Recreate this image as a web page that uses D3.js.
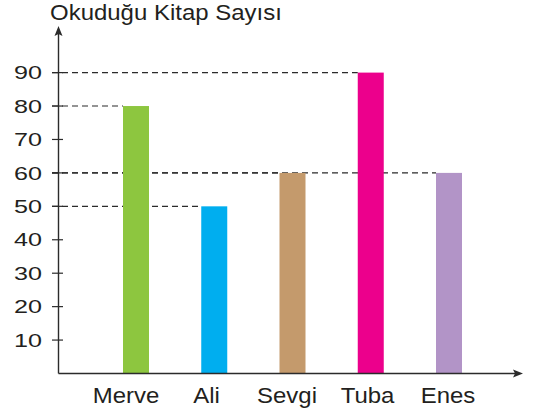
<!DOCTYPE html>
<html>
<head>
<meta charset="utf-8">
<script src="https://cdn.jsdelivr.net/npm/d3@7"></script>
<style>
  body { margin: 0; background: #fff; }
  text { font-family: "Liberation Sans", Arial, sans-serif; fill: #231f20; }
</style>
</head>
<body>
<div id="chart"></div>
<script>
// data
var names = ["Merve", "Ali", "Sevgi", "Tuba", "Enes"];
var books = [80, 50, 60, 90, 60];
var colors = ["#8dc63f", "#00aeef", "#c49a6c", "#ec008c", "#b294c7"];
var yTicks = [10, 20, 30, 40, 50, 60, 70, 80, 90];
var title = "Okuduğu Kitap Sayısı";

var width = 539, height = 413;
var x0 = 58.5, y0 = 373.5;
var ink = "#2b2b2b";

var svg = d3.select("#chart").append("svg")
    .attr("width", width)
    .attr("height", height);

var y = d3.scaleLinear()
    .domain([0, 90])
    .range([y0, 72.6]);

// bars sit on a point scale, labels on a slightly wider one
var x = d3.scalePoint()
    .domain(names)
    .range([136, 449]);
var xl = d3.scalePoint()
    .domain(names)
    .range([126, 448]);
var barW = 26;

// dashed guide lines from axis to the left edge of each bar
svg.append("g").selectAll("line")
    .data(names)
    .enter()
    .append("line")
    .attr("x1", 52)
    .attr("x2", (d, i) => x(d) - barW / 2)
    .attr("y1", (d, i) => y(books[i]))
    .attr("y2", (d, i) => y(books[i]))
    .style("stroke", ink)
    .style("stroke-width", 1.1)
    .style("stroke-dasharray", "6,4");

// bars
svg.append("g").selectAll("rect")
    .data(names)
    .enter()
    .append("rect")
    .attr("x", d => x(d) - barW / 2)
    .attr("width", barW)
    .attr("y", (d, i) => y(books[i]))
    .attr("height", (d, i) => y0 - y(books[i]))
    .style("fill", (d, i) => colors[i]);

// y axis ticks + labels
var yg = svg.append("g");
yg.selectAll("line")
    .data(yTicks)
    .enter()
    .append("line")
    .attr("x1", 52).attr("x2", 63)
    .attr("y1", d => y(d)).attr("y2", d => y(d))
    .style("stroke", ink)
    .style("stroke-width", 1.2);
yg.selectAll("text")
    .data(yTicks)
    .enter()
    .append("text")
    .attr("text-anchor", "end")
    .attr("transform", d => "translate(42," + (y(d) + 6.6) + ") scale(1.36,1)")
    .attr("font-size", "18.5px")
    .text(d => d);

// axes with arrows
svg.append("line")
    .attr("x1", x0).attr("y1", y0)
    .attr("x2", x0).attr("y2", 32)
    .style("stroke", ink).style("stroke-width", 1.4);
svg.append("path")
    .attr("d", "M" + x0 + ",26 L" + (x0 - 4) + ",36 L" + x0 + ",34 L" + (x0 + 4) + ",36 Z")
    .style("fill", ink);

svg.append("line")
    .attr("x1", x0).attr("y1", y0)
    .attr("x2", 517).attr("y2", y0)
    .style("stroke", ink).style("stroke-width", 1.4);
svg.append("path")
    .attr("d", "M523," + y0 + " L513," + (y0 - 4) + " L515," + y0 + " L513," + (y0 + 4) + " Z")
    .style("fill", ink);

// category labels
svg.append("g").selectAll("text")
    .data(names)
    .enter()
    .append("text")
    .attr("text-anchor", "middle")
    .attr("transform", d => "translate(" + xl(d) + ",402.7) scale(1.09,1)")
    .attr("font-size", "22px")
    .text(d => d);

// title
svg.append("text")
    .attr("transform", "translate(50,20) scale(1.09,1)")
    .attr("font-size", "22px")
    .text(title);
</script>
</body>
</html>
